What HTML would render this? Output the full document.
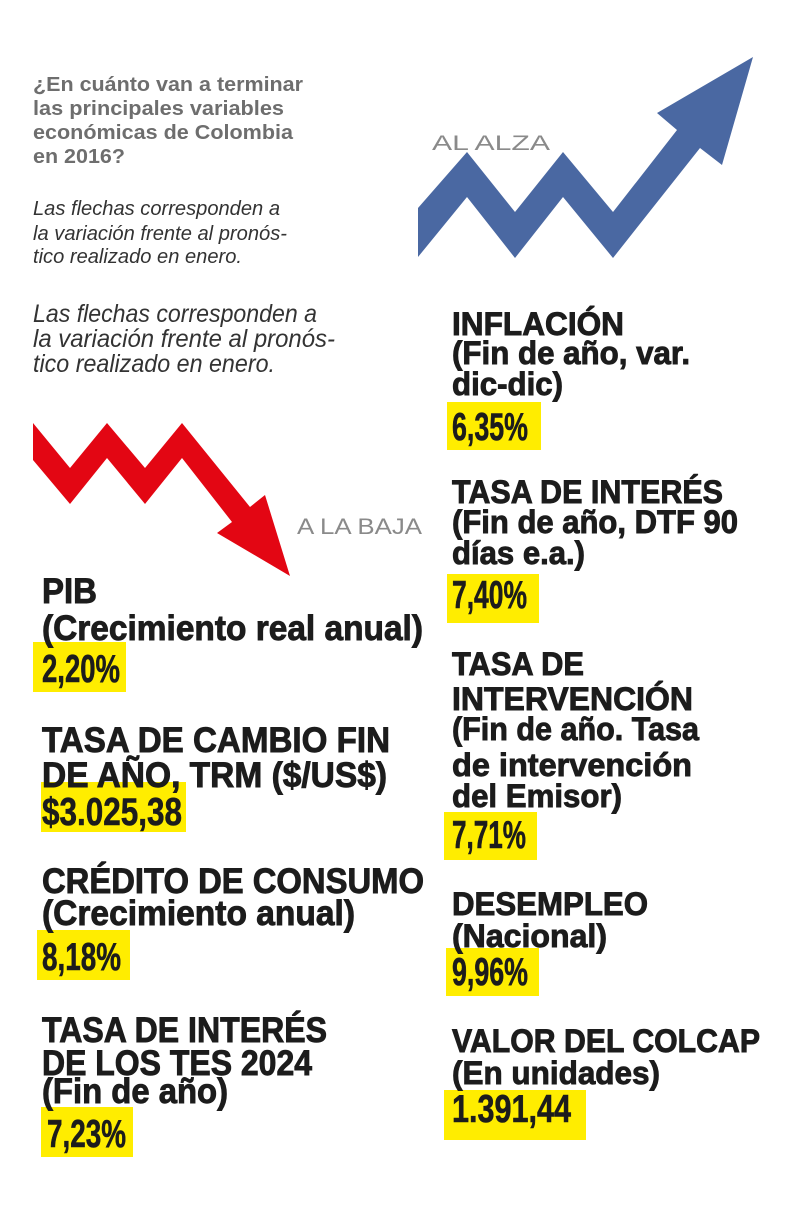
<!DOCTYPE html>
<html><head><meta charset="utf-8"><style>
html,body{margin:0;padding:0;background:#fff;}
svg{display:block;}
.t{font-family:"Liberation Sans",sans-serif;font-weight:bold;fill:#6e6e6e;font-size:20px;}
.i{font-family:"Liberation Sans",sans-serif;font-style:italic;fill:#333;}
.h{font-family:"Liberation Sans Narrow","Liberation Sans",sans-serif;font-weight:bold;fill:#1c1c1c;stroke:#1c1c1c;stroke-width:0.9px;}
.n{font-family:"Liberation Sans Narrow","Liberation Sans",sans-serif;font-weight:bold;fill:#1c1c1c;font-size:39px;stroke:#1c1c1c;stroke-width:0.6px;}
.g{font-family:"Liberation Sans",sans-serif;fill:#8a8a8a;}
</style></head><body>
<svg width="800" height="1210" viewBox="0 0 800 1210" xmlns="http://www.w3.org/2000/svg">
<rect width="800" height="1210" fill="#fff"/>
<text class="t" x="33" y="91" textLength="270" lengthAdjust="spacingAndGlyphs">¿En cuánto van a terminar</text>
<text class="t" x="33" y="115" textLength="251" lengthAdjust="spacingAndGlyphs">las principales variables</text>
<text class="t" x="33" y="139" textLength="260" lengthAdjust="spacingAndGlyphs">económicas de Colombia</text>
<text class="t" x="33" y="163" textLength="92" lengthAdjust="spacingAndGlyphs">en 2016?</text>
<text class="i" font-size="20" x="33" y="215" textLength="247" lengthAdjust="spacingAndGlyphs">Las flechas corresponden a</text>
<text class="i" font-size="20" x="33" y="240" textLength="254" lengthAdjust="spacingAndGlyphs">la variación frente al pronós-</text>
<text class="i" font-size="20" x="33" y="263" textLength="209" lengthAdjust="spacingAndGlyphs">tico realizado en enero.</text>
<text class="i" font-size="25" x="33" y="322" textLength="284" lengthAdjust="spacingAndGlyphs">Las flechas corresponden a</text>
<text class="i" font-size="25" x="33" y="347" textLength="302" lengthAdjust="spacingAndGlyphs">la variación frente al pronós-</text>
<text class="i" font-size="25" x="33" y="372" textLength="242" lengthAdjust="spacingAndGlyphs">tico realizado en enero.</text>
<polygon fill="#4a68a2" points="418,208 467,152 515,212 563,152 613,212 677,130 657,113 753,57 722,165 700,148 613,258 563,197 515,258 467,197 418,257"/>
<text class="g" font-size="21" x="432" y="150" textLength="118" lengthAdjust="spacingAndGlyphs">AL ALZA</text>
<polygon fill="#e30613" points="33,423 70,468 107,423 145,468 182,423 250,507 265,495 290,576 217,533 232,522 182,458 145,504 107,458 70,504 33,460"/>
<text class="g" font-size="22" x="297" y="534" textLength="125" lengthAdjust="spacingAndGlyphs">A LA BAJA</text>
<g fill="#ffed00">
<rect x="447" y="402" width="94" height="48"/>
<rect x="447" y="574" width="92" height="49"/>
<rect x="444" y="812" width="93" height="48"/>
<rect x="446" y="948" width="93" height="48"/>
<rect x="444" y="1090" width="142" height="50"/>
<rect x="33" y="642" width="93" height="50"/>
<rect x="41" y="782" width="145" height="50"/>
<rect x="37" y="930" width="93" height="50"/>
<rect x="41" y="1107" width="92" height="50"/>
</g>
<g class="h" font-size="32">
<text x="452" y="335" textLength="172" lengthAdjust="spacingAndGlyphs">INFLACIÓN</text>
<text x="452" y="364" textLength="238" lengthAdjust="spacingAndGlyphs">(Fin de año, var.</text>
<text x="452" y="395" textLength="111" lengthAdjust="spacingAndGlyphs">dic-dic)</text>
<text x="452" y="503" textLength="271" lengthAdjust="spacingAndGlyphs">TASA DE INTERÉS</text>
<text x="452" y="533" textLength="286" lengthAdjust="spacingAndGlyphs">(Fin de año, DTF 90</text>
<text x="452" y="564" textLength="133" lengthAdjust="spacingAndGlyphs">días e.a.)</text>
<text x="452" y="675" textLength="132" lengthAdjust="spacingAndGlyphs">TASA DE</text>
<text x="452" y="710" textLength="241" lengthAdjust="spacingAndGlyphs">INTERVENCIÓN</text>
<text x="452" y="740" textLength="247" lengthAdjust="spacingAndGlyphs">(Fin de año. Tasa</text>
<text x="452" y="776" textLength="240" lengthAdjust="spacingAndGlyphs">de intervención</text>
<text x="452" y="807" textLength="170" lengthAdjust="spacingAndGlyphs">del Emisor)</text>
<text x="452" y="915" textLength="196" lengthAdjust="spacingAndGlyphs">DESEMPLEO</text>
<text x="452" y="947" textLength="155" lengthAdjust="spacingAndGlyphs">(Nacional)</text>
<text x="452" y="1052" textLength="308" lengthAdjust="spacingAndGlyphs">VALOR DEL COLCAP</text>
<text x="452" y="1084" textLength="208" lengthAdjust="spacingAndGlyphs">(En unidades)</text>
</g>
<g class="n">
<text x="452" y="440" textLength="76" lengthAdjust="spacingAndGlyphs">6,35%</text>
<text x="452" y="608" textLength="75" lengthAdjust="spacingAndGlyphs">7,40%</text>
<text x="452" y="848" textLength="74" lengthAdjust="spacingAndGlyphs">7,71%</text>
<text x="452" y="985" textLength="76" lengthAdjust="spacingAndGlyphs">9,96%</text>
<text x="452" y="1122" textLength="119" lengthAdjust="spacingAndGlyphs">1.391,44</text>
<text x="42" y="682" textLength="78" lengthAdjust="spacingAndGlyphs">2,20%</text>
<text x="42" y="825" textLength="140" lengthAdjust="spacingAndGlyphs">$3.025,38</text>
<text x="42" y="970" textLength="79" lengthAdjust="spacingAndGlyphs">8,18%</text>
<text x="47" y="1147" textLength="79" lengthAdjust="spacingAndGlyphs">7,23%</text>
</g>
<g class="h" font-size="35">
<text x="42" y="603" textLength="55" lengthAdjust="spacingAndGlyphs">PIB</text>
<text x="42" y="640" textLength="381" lengthAdjust="spacingAndGlyphs">(Crecimiento real anual)</text>
<text x="42" y="752" textLength="348" lengthAdjust="spacingAndGlyphs">TASA DE CAMBIO FIN</text>
<text x="42" y="787" textLength="345" lengthAdjust="spacingAndGlyphs">DE AÑO, TRM ($/US$)</text>
<text x="42" y="893" textLength="382" lengthAdjust="spacingAndGlyphs">CRÉDITO DE CONSUMO</text>
<text x="42" y="925" textLength="313" lengthAdjust="spacingAndGlyphs">(Crecimiento anual)</text>
<text x="42" y="1042" textLength="285" lengthAdjust="spacingAndGlyphs">TASA DE INTERÉS</text>
<text x="42" y="1075" textLength="270" lengthAdjust="spacingAndGlyphs">DE LOS TES 2024</text>
<text x="42" y="1103" textLength="186" lengthAdjust="spacingAndGlyphs">(Fin de año)</text>
</g>
</svg>
</body></html>
